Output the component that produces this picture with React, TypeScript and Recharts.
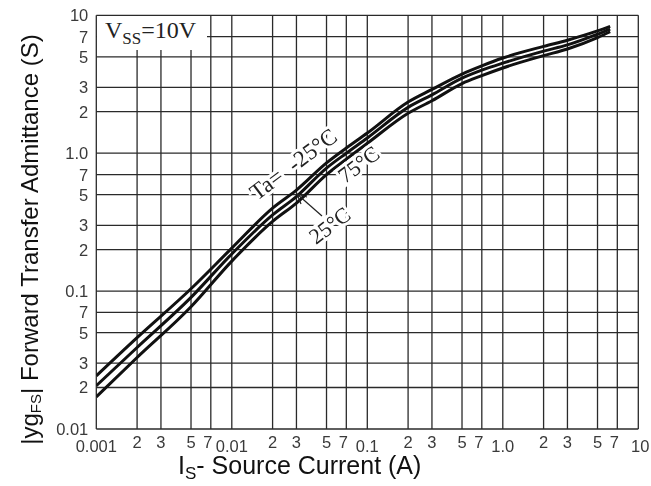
import React from 'react';
import { LineChart, Line, XAxis, YAxis, CartesianGrid } from 'recharts';

// Is (A) sample points along the curves
const currents = [0.001, 0.002, 0.005, 0.01, 0.02, 0.03, 0.05, 0.07, 0.1, 0.2, 0.3, 0.5, 0.7, 1, 2, 3, 5, 6.2];
// |yfs| (S) per ambient temperature
const yfsMinus25 = [0.0243, 0.046, 0.104, 0.205, 0.4, 0.54, 0.85, 1.09, 1.4, 2.35, 2.9, 3.75, 4.3, 4.9, 5.95, 6.6, 7.7, 8.3];
const yfs25 = [0.0206, 0.039, 0.09, 0.186, 0.357, 0.485, 0.78, 1.0, 1.29, 2.15, 2.65, 3.5, 4.0, 4.5, 5.5, 6.1, 7.3, 7.95];
const yfs75 = [0.0171, 0.033, 0.077, 0.165, 0.32, 0.435, 0.7, 0.906, 1.18, 1.95, 2.4, 3.2, 3.65, 4.15, 5.1, 5.7, 6.9, 7.6];

const xTicks = [0.001, 0.002, 0.003, 0.005, 0.007, 0.01, 0.02, 0.03, 0.05, 0.07, 0.1, 0.2, 0.3, 0.5, 0.7, 1, 2, 3, 5, 7, 10];
const xTickLabels = ['0.001', '2', '3', '5', '7', '0.01', '2', '3', '5', '7', '0.1', '2', '3', '5', '7', '1.0', '2', '3', '5', '7', '10'];
const yTicks = [0.01, 0.02, 0.03, 0.05, 0.07, 0.1, 0.2, 0.3, 0.5, 0.7, 1, 2, 3, 5, 7, 10];
const yTickLabels = ['0.01', '2', '3', '5', '7', '0.1', '2', '3', '5', '7', '1.0', '2', '3', '5', '7', '10'];

const data = currents.map((x, i) => ({
    x,
    m25: yfsMinus25[i],
    t25: yfs25[i],
    t75: yfs75[i],
}));

const sans = '"Liberation Sans", Arial, sans-serif';
const serif = '"Liberation Serif", "Times New Roman", serif';
const tickColor = '#3a3a3a';

const isDecade = (s: string) => s.includes('.') || s === '10';

const XTick = (props: any) => {
    const { x, y, index } = props;
    const label = xTickLabels[index];
    const decade = isDecade(label);
    // the "7" sits a little left of its line, the last "10" a little right
    const dx = label === '7' ? -3 : label === '10' ? 2 : 0;
    return (
        <text x={x + dx} y={y + (decade ? 23 : 19)} textAnchor="middle" fontFamily={sans} fontSize={16.5} fill={tickColor}>
            {label}
        </text>
    );
};

const YTick = (props: any) => {
    const { x, y, index } = props;
    return (
        <text x={x - 8} y={y} textAnchor="end" dominantBaseline="central" fontFamily={sans} fontSize={16.5} fill={tickColor}>
            {yTickLabels[index]}
        </text>
    );
};

const halo = { stroke: '#fff', strokeWidth: 6, paintOrder: 'stroke' as const, whiteSpace: 'pre' as const };

export default function App() {
    return (
        <div style={{ position: 'fixed', left: 0, top: 0, width: 651, height: 486, overflow: 'visible' }}>
            <LineChart width={651} height={486} data={data} margin={{ top: 15.3, right: 12.7, bottom: 0, left: 0 }} style={{ overflow: 'visible' }}>
                <CartesianGrid stroke="#2a2a2a" strokeWidth={1.3} />
                <XAxis
                    dataKey="x"
                    type="number"
                    scale="log"
                    domain={[0.001, 10]}
                    allowDataOverflow
                    ticks={xTicks}
                    interval={0}
                    tick={<XTick />}
                    tickLine={false}
                    axisLine={false}
                    tickSize={0}
                    tickMargin={0}
                    height={57}
                />
                <YAxis
                    type="number"
                    scale="log"
                    domain={[0.01, 10]}
                    allowDataOverflow
                    ticks={yTicks}
                    interval={0}
                    tick={<YTick />}
                    tickLine={false}
                    axisLine={false}
                    tickSize={0}
                    tickMargin={0}
                    width={96.3}
                />
                <Line type="monotone" dataKey="m25" stroke="#111" strokeWidth={3} dot={false} isAnimationActive={false} />
                <Line type="monotone" dataKey="t25" stroke="#111" strokeWidth={3} dot={false} isAnimationActive={false} />
                <Line type="monotone" dataKey="t75" stroke="#111" strokeWidth={3} dot={false} isAnimationActive={false} />
            </LineChart>

            {/* annotations and axis titles */}
            <svg width={651} height={486} style={{ position: 'absolute', left: 0, top: 0, pointerEvents: 'none' }}>
                <rect x={97} y={16} width={110} height={34} fill="#fff" />
                <text x={105} y={38} fontFamily={serif} fontSize={24} fill="#222">
                    V<tspan fontSize={17} dy={6}>SS</tspan>
                    <tspan dy={-6}>=10V</tspan>
                </text>

                <text x={257} y={201} transform="rotate(-37 257 201)" fontFamily={serif} fontSize={23} fill="#222" style={halo}>
                    {'Ta=  -25°C'}
                </text>
                <text x={345} y={184} transform="rotate(-37 345 184)" fontFamily={serif} fontSize={22} fill="#222" style={halo}>
                    75°C
                </text>
                <text x={316} y={245} transform="rotate(-37 316 245)" fontFamily={serif} fontSize={22} fill="#222" style={halo}>
                    25°C
                </text>
                <g stroke="#222" strokeWidth={1.2} fill="none">
                    <line x1={297} y1={194} x2={322} y2={216} />
                    <line x1={297} y1={194} x2={301} y2={204} />
                    <line x1={297} y1={194} x2={307} y2={197} />
                </g>

                <text x={38} y={239.5} transform="rotate(-90 38 239.5)" textAnchor="middle" fontFamily={sans} fontSize={24} fill="#111">
                    |yg<tspan fontSize={15} dy={3}>FS</tspan>
                    <tspan dy={-3}>| Forward Transfer Admittance (S)</tspan>
                </text>
                <text x={178} y={474} fontFamily={sans} fontSize={25} fill="#111">
                    I<tspan fontSize={17} dy={5}>S</tspan>
                    <tspan dy={-5}>- Source Current (A)</tspan>
                </text>
            </svg>
        </div>
    );
}
